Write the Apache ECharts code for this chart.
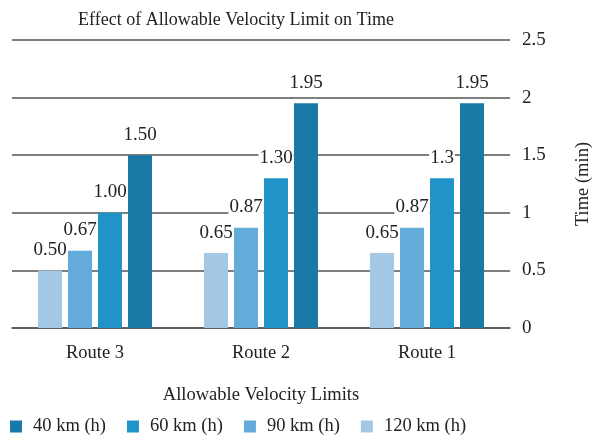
<!DOCTYPE html>
<html>
<head>
<meta charset="utf-8">
<script src="https://cdn.jsdelivr.net/npm/echarts@6/dist/echarts.min.js"></script>
<style>
  html, body { margin: 0; padding: 0; background: #fff; }
  #chart { width: 592px; height: 443px; }
</style>
</head>
<body>
<div id="chart"></div>
<script>
// Routes along the category axis
const routes = ['Route 3', 'Route 2', 'Route 1'];

// Travel time (min) per velocity limit
const time120 = [0.50, 0.65, 0.65];
const time90  = [0.67, 0.87, 0.87];
const time60  = [1.00, 1.30, 1.30];
const time40  = [1.50, 1.95, 1.95];

// Printed value labels
const label120 = ['0.50', '0.65', '0.65'];
const label90  = ['0.67', '0.87', '0.87'];
const label60  = ['1.00', '1.30', '1.3'];
const label40  = ['1.50', '1.95', '1.95'];

// Time axis ticks
const yMin = 0, yMax = 2.5, yStep = 0.5;

const legendOrder = ['40 km (h)', '60 km (h)', '90 km (h)', '120 km (h)'];

const FONT = '"Liberation Serif", "DejaVu Serif", serif';
const INK = '#222';
const colors = {
  '40 km (h)': '#1b79a8',
  '60 km (h)': '#2193c9',
  '90 km (h)': '#63acda',
  '120 km (h)': '#a4c8e4'
};

function barSeries(name, values, texts) {
  return {
    name: name,
    type: 'bar',
    data: values,
    barWidth: 24,
    barGap: '25%',
    itemStyle: { color: colors[name] },
    label: {
      show: true,
      position: 'top',
      distance: 11,
      fontFamily: FONT,
      fontSize: 19,
      color: INK,
      backgroundColor: '#fff',
      padding: [0, 1],
      formatter: p => texts[p.dataIndex]
    }
  };
}

const chart = echarts.init(document.getElementById('chart'));
chart.setOption({
  animation: false,
  textStyle: { fontFamily: FONT },
  title: {
    text: 'Effect of Allowable Velocity Limit on Time',
    left: 231,
    textAlign: 'center',
    top: 6,
    textStyle: { fontFamily: FONT, fontSize: 18, fontWeight: 'normal', color: INK }
  },
  grid: { left: 12, right: 82, top: 40, bottom: 115, containLabel: false, outerBoundsMode: 'none' },
  legend: {
    data: legendOrder,
    bottom: 2,
    left: 5,
    itemWidth: 12,
    itemHeight: 12,
    itemGap: 21,
    itemStyle: { borderWidth: 0 },
    icon: 'rect',
    textStyle: { fontFamily: FONT, fontSize: 18.5, color: INK, padding: [0, 0, 0, 6] }
  },
  xAxis: {
    type: 'category',
    data: routes,
    name: 'Allowable Velocity Limits',
    nameLocation: 'middle',
    nameGap: 58,
    nameTextStyle: { fontFamily: FONT, fontSize: 18.5, color: INK },
    axisLine: { lineStyle: { color: '#555', width: 1.5 } },
    axisTick: { show: false },
    axisLabel: { fontFamily: FONT, fontSize: 18.5, color: INK, margin: 16 }
  },
  yAxis: {
    type: 'value',
    position: 'right',
    min: yMin,
    max: yMax,
    interval: yStep,
    name: 'Time (min)',
    nameLocation: 'middle',
    nameRotate: 90,
    nameGap: 64,
    nameTextStyle: { fontFamily: FONT, fontSize: 18.5, color: INK },
    axisLine: { show: false },
    axisTick: { show: false },
    splitLine: { lineStyle: { color: '#555', width: 1.5 } },
    axisLabel: { fontFamily: FONT, fontSize: 19, color: INK, margin: 12 }
  },
  series: [
    barSeries('120 km (h)', time120, label120),
    barSeries('90 km (h)', time90, label90),
    barSeries('60 km (h)', time60, label60),
    barSeries('40 km (h)', time40, label40)
  ]
});
</script>
</body>
</html>
